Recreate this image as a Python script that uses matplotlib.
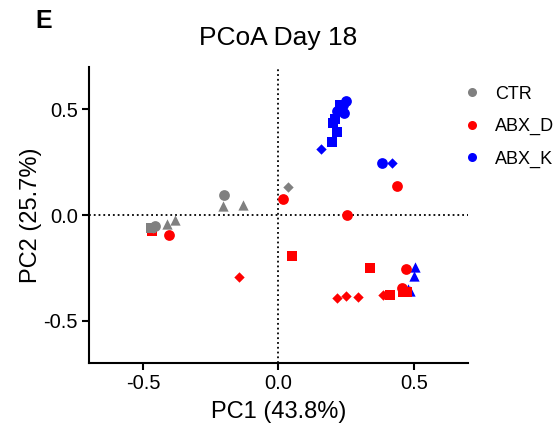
import matplotlib.pyplot as plt
from matplotlib.lines import Line2D

plt.rcParams['font.family'] = ['Liberation Sans', 'DejaVu Sans']

# PCoA coordinates, grouped by treatment and marker shape
ctr_circle_x = [-0.199, -0.455]
ctr_circle_y = [0.096, -0.050]
ctr_square_x = [-0.470]
ctr_square_y = [-0.060]
ctr_triangle_x = [-0.206, -0.129, -0.412, -0.382]
ctr_triangle_y = [0.045, 0.049, -0.040, -0.021]
ctr_diamond_x = [0.037, -0.462]
ctr_diamond_y = [0.134, -0.062]

abxd_circle_x = [0.018, 0.254, 0.4375, -0.404, 0.470, 0.456]
abxd_circle_y = [0.078, 0.000, 0.138, -0.092, -0.256, -0.345]
abxd_square_x = [0.050, 0.338, 0.412, 0.460, 0.474, -0.467]
abxd_square_y = [-0.195, -0.251, -0.378, -0.364, -0.364, -0.077]
abxd_diamond_x = [-0.147, 0.217, 0.250, 0.294, 0.386]
abxd_diamond_y = [-0.293, -0.392, -0.383, -0.387, -0.378]

abxk_circle_x = [0.250, 0.239, 0.217, 0.243, 0.382]
abxk_circle_y = [0.538, 0.523, 0.495, 0.481, 0.246]
abxk_square_x = [0.228, 0.210, 0.202, 0.217, 0.199]
abxk_square_y = [0.520, 0.453, 0.434, 0.392, 0.345]
abxk_triangle_x = [0.504, 0.500, 0.480, 0.487]
abxk_triangle_y = [-0.246, -0.289, -0.350, -0.360]
abxk_diamond_x = [0.158, 0.419]
abxk_diamond_y = [0.312, 0.246]

groups = ['CTR', 'ABX_D', 'ABX_K']
colors = {'CTR': '#808080', 'ABX_D': '#ff0000', 'ABX_K': '#0000ff'}

fig = plt.figure(figsize=(5.55, 4.28), dpi=100)
ax = fig.add_axes([0.16, 0.152, 0.683, 0.691])

ax.axhline(0, color='black', linestyle=':', linewidth=1.3, zorder=1)
ax.axvline(0, color='black', linestyle=':', linewidth=1.3, zorder=1)

# blue first, then red, then gray on top
c = colors['ABX_K']
ax.scatter(abxk_triangle_x, abxk_triangle_y, marker='^', s=55, color=c, lw=0, zorder=3)
ax.scatter(abxk_square_x, abxk_square_y, marker='s', s=50, color=c, lw=0, zorder=3)
ax.scatter(abxk_circle_x, abxk_circle_y, marker='o', s=60, color=c, lw=0, zorder=3)
ax.scatter(abxk_diamond_x, abxk_diamond_y, marker='D', s=28, color=c, lw=0, zorder=3)

c = colors['ABX_D']
ax.scatter(abxd_square_x, abxd_square_y, marker='s', s=50, color=c, lw=0, zorder=4)
ax.scatter(abxd_circle_x, abxd_circle_y, marker='o', s=60, color=c, lw=0, zorder=4)
ax.scatter(abxd_diamond_x, abxd_diamond_y, marker='D', s=28, color=c, lw=0, zorder=4)

c = colors['CTR']
ax.scatter(ctr_square_x, ctr_square_y, marker='s', s=50, color=c, lw=0, zorder=5)
ax.scatter(ctr_circle_x, ctr_circle_y, marker='o', s=60, color=c, lw=0, zorder=5)
ax.scatter(ctr_triangle_x, ctr_triangle_y, marker='^', s=55, color=c, lw=0, zorder=5)
ax.scatter(ctr_diamond_x, ctr_diamond_y, marker='D', s=28, color=c, lw=0, zorder=5)

ax.set_xlim(-0.7, 0.7)
ax.set_ylim(-0.7, 0.7)
ax.set_xticks([-0.5, 0.0, 0.5])
ax.set_yticks([-0.5, 0.0, 0.5])
ax.set_xticklabels(['-0.5', '0.0', '0.5'])
ax.set_yticklabels(['-0.5', '0.0', '0.5'])
ax.spines['top'].set_visible(False)
ax.spines['right'].set_visible(False)
ax.spines['left'].set_linewidth(1.5)
ax.spines['bottom'].set_linewidth(1.5)
ax.tick_params(width=1.5, length=5, labelsize=14.5, pad=3)

ax.set_xlabel('PC1 (43.8%)', fontsize=17, labelpad=6)
ax.set_ylabel('PC2 (25.7%)', fontsize=17, labelpad=1)
ax.set_title('PCoA Day 18', fontsize=19, pad=16)
fig.text(0.063, 0.952, 'E', fontsize=18, fontweight='bold', va='center')

handles = [Line2D([], [], marker='o', linestyle='', markersize=6.5,
                  markerfacecolor=colors[g], markeredgewidth=0) for g in groups]
ax.legend(handles, groups, loc='upper left', bbox_to_anchor=(0.987, 0.938),
          frameon=False, fontsize=13, handlelength=0.95, handletextpad=0.85,
          labelspacing=0.85, borderaxespad=0, borderpad=0)

fig.savefig('out.png', dpi=100)
